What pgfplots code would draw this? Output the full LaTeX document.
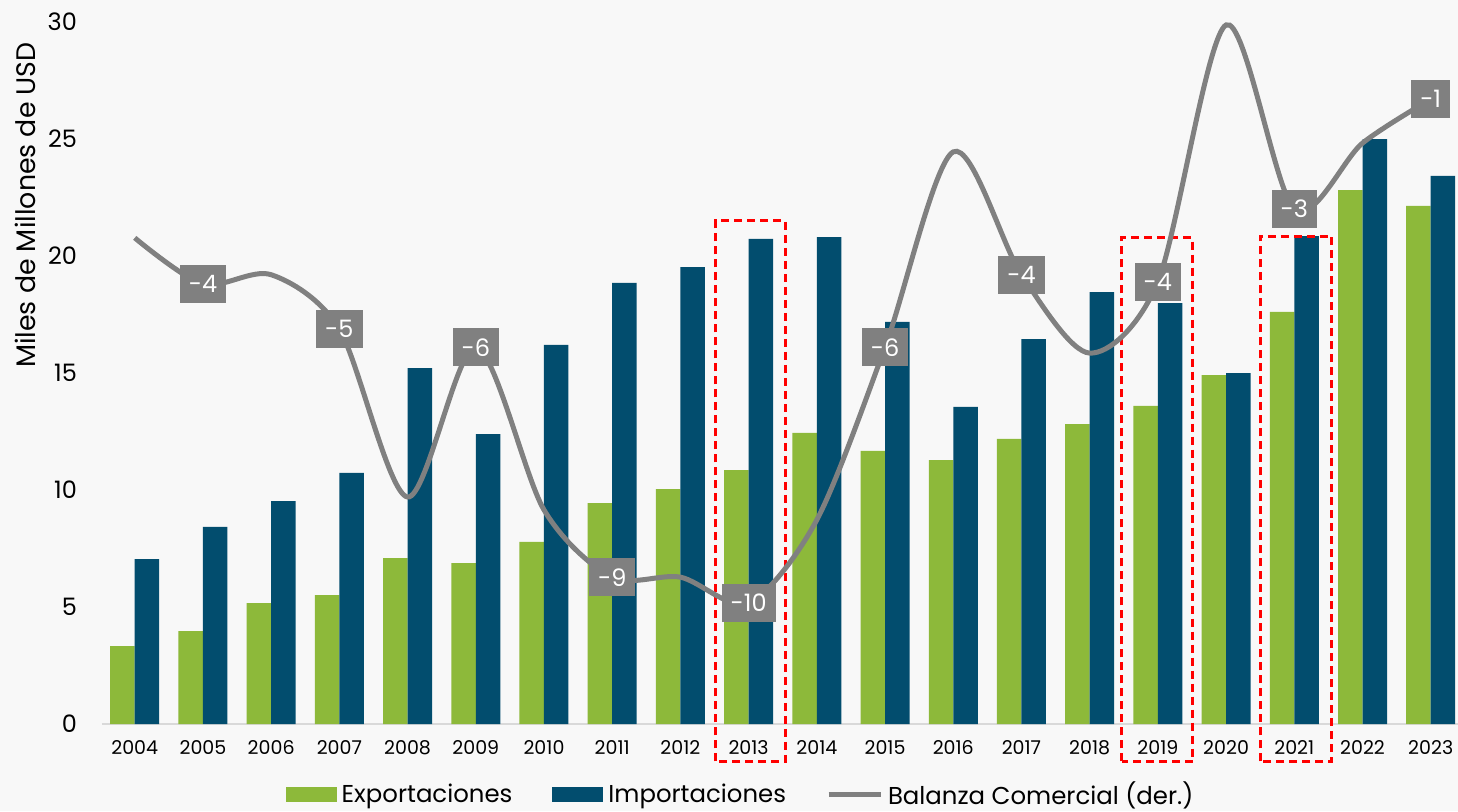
\documentclass[border=0pt]{standalone}
\usepackage{pgfplots}
\pgfplotsset{compat=1.18}
\usepackage{fontspec}
\setmainfont{Poppins}
\definecolor{expo}{HTML}{8DB93A}
\definecolor{impo}{HTML}{024D6E}
\definecolor{bal}{HTML}{808080}
\definecolor{bgc}{HTML}{F8F8F8}
\begin{document}
\begin{tikzpicture}
% background, 1px = 0.5pt
\fill[bgc] (-51pt,-43.5pt) rectangle ++(729pt,405.5pt);

\begin{axis}[
    scale only axis,
    width=678pt, height=351pt,
    ybar=0pt, bar width=12.25pt,
    xmin=-0.48, xmax=19.4,
    ymin=0, ymax=30,
    ytick={0,5,...,30},
    xtick={0,...,19},
    xticklabels={2004,2005,2006,2007,2008,2009,2010,2011,2012,2013,2014,2015,2016,2017,2018,2019,2020,2021,2022,2023},
    axis lines*=left,
    y axis line style={draw=none},
    x axis line style={draw=black!15, line width=1pt},
    tick style={draw=none},
    /pgf/number format/assume math mode=true,
    yticklabel style={font=\fontsize{12}{14}\selectfont, xshift=-9pt},
    xticklabel style={font=\fontsize{9.5}{11}\selectfont, yshift=-0.5pt},
    clip=false,
    legend columns=3,
    legend style={at={(0.472,-0.101)}, anchor=center, draw=none, fill=none,
        font=\fontsize{12.2}{14}\selectfont,
        nodes={inner xsep=2.5pt},
        /tikz/every even column/.append style={column sep=17.5pt}},
    legend image code/.code={\fill[#1] (0pt,-3.75pt) rectangle (25.5pt,3.75pt);},
]
\addplot[fill=expo, draw=none] coordinates {
    (0,3.33) (1,3.97) (2,5.17) (3,5.51) (4,7.09) (5,6.88) (6,7.78) (7,9.44)
    (8,10.04) (9,10.85) (10,12.44) (11,11.67) (12,11.28) (13,12.18) (14,12.82)
    (15,13.59) (16,14.91) (17,17.61) (18,22.82) (19,22.14)
};
\addlegendentry{Exportaciones}
\addplot[fill=impo, draw=none] coordinates {
    (0,7.05) (1,8.42) (2,9.53) (3,10.73) (4,15.21) (5,12.39) (6,16.20) (7,18.85)
    (8,19.53) (9,20.73) (10,20.81) (11,17.18) (12,13.55) (13,16.45) (14,18.46)
    (15,17.99) (16,15.00) (17,20.85) (18,25.00) (19,23.42)
};
\addlegendentry{Importaciones}
\addlegendimage{legend image code/.code={\draw[bal, line width=2.5pt] (0pt,0pt) -- (26pt,0pt);}}
\addlegendentry{Balanza Comercial (der.)}

% highlighted years
\draw[red, line width=1.5pt, dash pattern=on 4pt off 2.5pt] (axis cs:8.52,-1.6) rectangle (axis cs:9.54,21.5);
\draw[red, line width=1.5pt, dash pattern=on 4pt off 2.5pt] (axis cs:14.47,-1.6) rectangle (axis cs:15.51,20.77);
\draw[red, line width=1.5pt, dash pattern=on 4pt off 2.5pt] (axis cs:16.5,-1.6) rectangle (axis cs:17.55,20.85);

% y label
\node[rotate=90, anchor=east, font=\fontsize{13.4}{15}\selectfont] at ([xshift=-38.5pt]rel axis cs:0,0.981) {Miles de Millones de USD};
\end{axis}

\begin{axis}[
    scale only axis,
    width=678pt, height=351pt,
    xmin=-0.48, xmax=19.4,
    ymin=-12, ymax=0,
    hide axis,
    clip=false,
]
\addplot[bal, line width=2.5pt, smooth, mark=none] coordinates {
    (0,-3.69) (1,-4.48) (2,-4.32) (3,-5.25) (4,-8.12) (5,-5.56) (6,-8.34)
    (7,-9.49) (8,-9.49) (9,-9.93) (10,-8.51) (11,-5.56) (12,-2.22) (13,-4.32)
    (14,-5.66) (15,-4.44) (16,-0.05) (17,-3.20) (18,-2.07) (19,-1.32)
};
\addplot[draw=none, mark=none, nodes near coords, point meta=explicit symbolic,
    every node near coord/.append style={anchor=center, fill=bal, text=white,
        inner xsep=4.5pt, inner ysep=0pt, minimum height=19pt,
        font=\fontsize{12}{14}\selectfont}]
    table[meta=lab] {
    x y lab
    1 -4.48 -4
    3 -5.25 -5
    5 -5.56 -6
    7 -9.49 -9
    9 -9.93 -10
    11 -5.56 -6
    13 -4.32 -4
    15 -4.44 -4
    17 -3.20 -3
    19 -1.32 -1
};
\end{axis}
\pgfresetboundingbox
\path (-51pt,-43.5pt) rectangle ++(729pt,405.5pt);
\end{tikzpicture}
\end{document}
